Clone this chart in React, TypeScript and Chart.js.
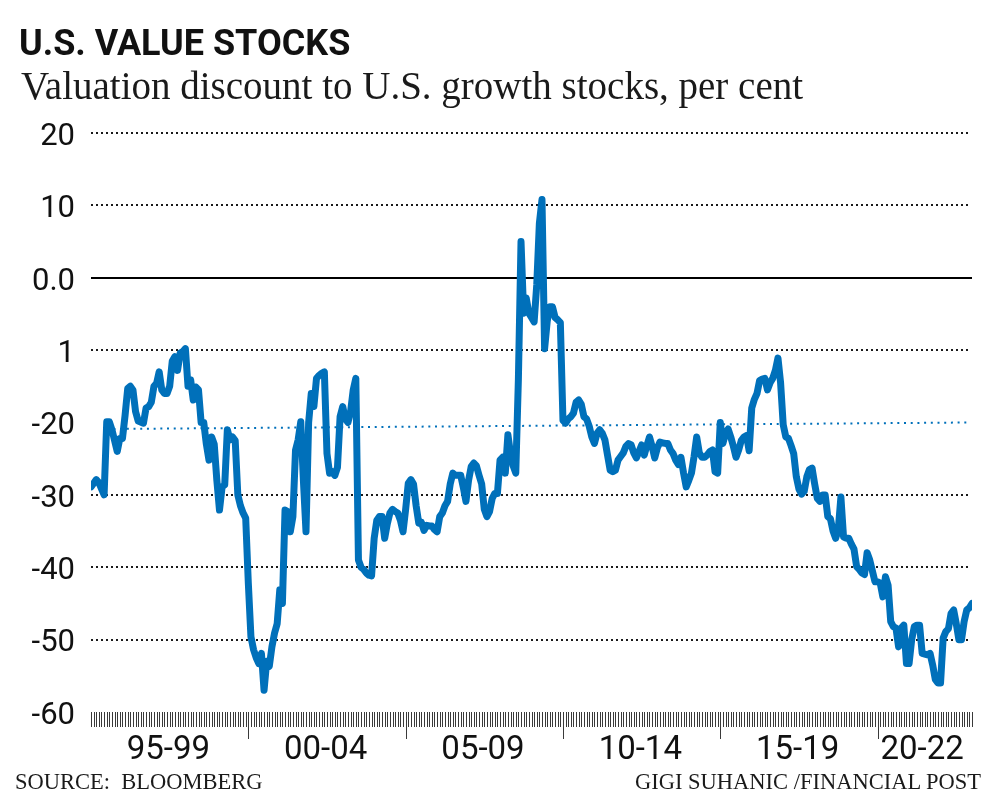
import React, { useEffect, useRef } from "react";
import { Chart, registerables } from "chart.js";

Chart.register(...registerables);

// Month index (0 = Jan 1995) and valuation discount (%)
const months: number[] = [
  0, 2, 3, 5, 6, 7, 8, 10, 11, 12, 13, 14, 15, 16, 17, 18, 20, 21, 22, 23, 24, 25, 26, 27, 28, 29,
  30, 31, 32, 33, 34, 35, 36, 37, 38, 39, 40, 41, 42, 43, 44, 45, 46, 47, 48, 49, 50, 51, 52, 53, 54,
  55, 56, 57, 58, 59, 60, 61, 62, 63, 64, 65, 66, 67, 68, 69, 70, 71, 72, 73, 74, 75, 76, 77, 78, 79,
  80, 81, 82, 83, 84, 85, 86, 87, 88, 89, 90, 91, 92, 93, 94, 95, 96, 97, 98, 99, 100, 101, 102, 103,
  104, 105, 106, 107, 108, 109, 110, 111, 112, 113, 114, 115, 116, 117, 118, 119, 120, 121, 122, 123,
  124, 125, 126, 127, 128, 129, 130, 131, 132, 133, 134, 135, 136, 137, 138, 139, 140, 141, 142, 143,
  144, 145, 146, 147, 148, 149, 150, 151, 152, 153, 154, 155, 156, 157, 158, 159, 160, 161, 162, 163,
  164, 165, 166, 167, 168, 169, 170, 171, 172, 173, 174, 175, 176, 177, 178, 179, 180, 181, 182, 183,
  184, 185, 186, 187, 188, 189, 190, 191, 192, 193, 194, 195, 196, 197, 198, 199, 200, 201, 202, 203,
  204, 205, 206, 207, 208, 209, 210, 211, 212, 213, 214, 215, 216, 217, 218, 219, 220, 221, 222, 223,
  224, 225, 226, 227, 228, 229, 230, 231, 232, 233, 234, 235, 236, 237, 238, 239, 240, 241, 242, 243,
  244, 245, 246, 247, 248, 249, 250, 251, 252, 253, 254, 255, 256, 257, 258, 259, 260, 261, 262, 263,
  264, 265, 266, 267, 268, 269, 270, 271, 272, 273, 274, 275, 276, 277, 278, 279, 280, 281, 282, 283,
  284, 285, 286, 287, 288, 289, 290, 291, 292, 293, 294, 295, 296, 297, 298, 299, 300, 301, 302, 303,
  304, 305, 306, 307, 308, 309, 310, 311, 312, 313, 314, 315, 316, 317, 318, 319, 320, 321, 322, 323,
  324, 325, 326, 327, 328, 329, 330, 331, 332, 333, 334, 335, 336,
];

const discount: number[] = [
  -28.9, -27.9, -28.3, -30.0, -19.9, -19.9, -21.0, -24.0, -22.2, -22.2, -19.0, -15.3, -15.0, -15.5, -18.5, -19.8, -20.1, -18.0, -17.8, -17.2, -15.0, -14.6, -13.0, -15.5, -16.0, -16.0,
  -15.0, -11.5, -10.9, -12.8, -10.4, -10.2, -9.8, -15.0, -14.1, -16.9, -15.1, -15.5, -20.0, -20.0, -23.0, -25.2, -22.0, -23.0, -28.0, -32.1, -28.9, -28.6, -21.0, -22.4, -22.0,
  -22.5, -30.0, -31.5, -32.5, -33.2, -42.2, -49.6, -51.4, -52.5, -53.3, -51.9, -57.0, -53.0, -53.7, -51.0, -49.1, -47.8, -43.1, -45.0, -32.1, -32.3, -35.1, -33.0, -23.8, -22.4,
  -19.9, -28.0, -35.1, -20.0, -16.0, -17.8, -13.9, -13.5, -13.2, -13.0, -24.3, -27.0, -26.8, -27.3, -26.2, -19.2, -17.8, -19.5, -20.0, -18.5, -15.5, -13.9, -39.0, -40.0,
  -40.3, -40.8, -41.1, -41.2, -36.0, -33.5, -33.0, -33.0, -36.0, -34.0, -32.5, -32.0, -32.3, -32.5, -33.5, -35.1, -32.0, -28.4, -27.9, -28.5,
  -31.5, -33.9, -33.8, -34.9, -34.2, -34.3, -34.3, -34.8, -35.1, -33.0, -32.5, -31.5, -30.9, -28.5, -27.0, -27.3, -27.3, -27.3, -29.0, -30.9,
  -28.0, -26.1, -25.6, -26.0, -27.3, -28.5, -32.0, -33.0, -32.3, -30.5, -29.8, -29.8, -25.2, -24.8, -27.0, -21.7, -24.3, -26.0, -27.0, -14.0,
  5.0, -4.9, -2.8, -4.9, -5.5, -6.1, -1.0, 7.5, 10.8, -9.8, -6.0, -4.0, -4.0, -5.5, -5.8, -6.2, -19.7, -20.1, -19.5, -19.2,
  -18.7, -17.2, -16.9, -17.5, -19.2, -19.5, -20.5, -22.0, -22.9, -21.5, -21.0, -21.5, -22.4, -24.5, -26.6, -26.8, -26.6, -25.2, -24.7, -24.2,
  -23.3, -22.9, -23.1, -24.2, -24.9, -24.0, -23.1, -24.5, -23.2, -22.0, -23.3, -24.9, -23.5, -22.7, -22.8, -22.9, -22.9, -23.8, -24.3, -25.2,
  -25.8, -24.8, -27.0, -28.9, -28.0, -27.0, -24.7, -22.0, -24.2, -24.8, -24.8, -24.5, -24.0, -23.8, -26.8, -27.0, -20.0, -22.9, -21.5, -20.9,
  -22.0, -23.3, -24.8, -23.8, -22.5, -22.0, -21.8, -23.9, -18.0, -16.8, -16.0, -14.2, -14.0, -13.9, -15.5, -14.5, -13.9, -12.8, -11.1, -14.5,
  -20.3, -22.0, -22.2, -23.2, -24.3, -27.5, -29.2, -29.9, -29.5, -27.5, -26.5, -26.3, -28.5, -30.5, -30.9, -30.0, -30.0, -33.0, -33.3, -35.0,
  -36.0, -34.8, -30.3, -35.8, -36.0, -36.0, -36.8, -37.5, -39.9, -40.3, -40.8, -41.0, -38.0, -39.0, -40.5, -42.0, -42.0, -42.2, -44.1, -41.3,
  -42.5, -47.5, -48.2, -48.4, -51.0, -48.4, -48.0, -53.3, -53.3, -50.0, -48.2, -48.0, -48.0, -51.9, -52.0, -52.1, -51.9, -53.5, -55.5, -56.0,
  -56.0, -49.8, -48.9, -48.5, -46.4, -45.9, -47.8, -50.0, -50.0, -47.5, -45.9, -45.6, -45.0,
];

// Faint blue reference line near -20
const refMonths: number[] = [6, 335];
const refValues: number[] = [-20.9, -20.0];

const yTickValues: number[] = [20, 10, 0, -10, -20, -30, -40, -50, -60];
const yTickLabels: string[] = ["20", "10", "0.0", "1", "-20", "-30", "-40", "-50", "-60"];
const dottedGridValues: number[] = [20, 10, -10, -30, -40, -50];

const xLabelPositions: number[] = [29.5, 89.5, 149.5, 209.5, 269.5, 317];
const xLabels: string[] = ["95-99", "00-04", "05-09", "10-14", "15-19", "20-22"];
const majorTickMonths: number[] = [60, 120, 180, 240, 300];
const firstMonth = 0;
const lastMonth = 336;

const BLUE = "#0070ba";
const SANS = "Roboto, 'Noto Sans', sans-serif";
const SERIF = "'Liberation Serif', 'Times New Roman', serif";

const gridPlugin = {
  id: "ftGrid",
  beforeDatasetsDraw(chart: any) {
    const { ctx, chartArea, scales } = chart;
    const x = scales.x;
    const y = scales.y;
    ctx.save();
    ctx.strokeStyle = "#1a1a1a";
    ctx.lineWidth = 2;
    ctx.setLineDash([2, 3]);
    for (const v of dottedGridValues) {
      const py = Math.round(y.getPixelForValue(v));
      ctx.beginPath();
      ctx.moveTo(chartArea.left, py);
      ctx.lineTo(chartArea.right - 2, py);
      ctx.stroke();
    }
    ctx.setLineDash([]);
    ctx.strokeStyle = "#000";
    ctx.lineWidth = 2;
    const p0 = Math.round(y.getPixelForValue(0));
    ctx.beginPath();
    ctx.moveTo(chartArea.left, p0);
    ctx.lineTo(chartArea.right, p0);
    ctx.stroke();
    ctx.strokeStyle = "#3a3a3a";
    ctx.lineWidth = 1;
    const top = chartArea.bottom;
    for (let m = firstMonth; m <= lastMonth; m++) {
      const px = Math.round(x.getPixelForValue(m)) + 0.5;
      const len = majorTickMonths.includes(m) ? 27 : 15;
      ctx.beginPath();
      ctx.moveTo(px, top);
      ctx.lineTo(px, top + len);
      ctx.stroke();
    }
    ctx.restore();
  },
};

export default function App() {
  const canvasRef = useRef<HTMLCanvasElement | null>(null);

  useEffect(() => {
    if (!canvasRef.current) return;
    const chart = new Chart(canvasRef.current, {
      type: "line",
      data: {
        datasets: [
          {
            data: months.map((m, i) => ({ x: m, y: discount[i] })),
            borderColor: BLUE,
            borderWidth: 7,
            borderJoinStyle: "round",
            borderCapStyle: "round",
            pointRadius: 0,
            tension: 0,
            fill: false,
          },
          {
            data: refMonths.map((m, i) => ({ x: m, y: refValues[i] })),
            borderColor: BLUE,
            borderWidth: 2,
            borderDash: [2, 4.7],
            pointRadius: 0,
            tension: 0,
            fill: false,
          },
        ],
      },
      options: {
        responsive: false,
        animation: false,
        events: [],
        layout: { padding: { top: 133, right: 28, bottom: 0, left: 0 } },
        plugins: { legend: { display: false }, tooltip: { enabled: false }, title: { display: false } },
        scales: {
          x: {
            type: "linear",
            min: firstMonth,
            max: lastMonth,
            grid: { display: false, drawTicks: false },
            border: { display: false },
            afterBuildTicks: (scale: any) => {
              scale.ticks = xLabelPositions.map((v) => ({ value: v }));
            },
            afterFit: (scale: any) => {
              scale.height = 90;
            },
            ticks: {
              autoSkip: false,
              maxRotation: 0,
              padding: 19,
              color: "#111",
              font: { family: SANS, size: 33 },
              callback: (_v: any, i: number) => xLabels[i],
            },
          },
          y: {
            type: "linear",
            min: -60,
            max: 20,
            grid: { display: false, drawTicks: false },
            border: { display: false },
            afterBuildTicks: (scale: any) => {
              scale.ticks = yTickValues.map((v) => ({ value: v }));
            },
            afterFit: (scale: any) => {
              scale.width = 91;
            },
            ticks: {
              padding: 16,
              labelOffset: 4,
              color: "#111",
              font: { family: SANS, size: 31 },
              callback: (_v: any, i: number) => yTickLabels[i],
            },
          },
        },
      },
      plugins: [gridPlugin],
    });
    return () => chart.destroy();
  }, []);

  return (
    <div style={{ position: "absolute", left: 0, top: 0, width: 1000, height: 802, background: "#fff", overflow: "hidden" }}>
      <canvas ref={canvasRef} width={1000} height={802} style={{ position: "absolute", left: 0, top: 0, width: 1000, height: 802 }} />
      <div
        style={{
          position: "absolute",
          left: 19,
          top: 24.5,
          fontFamily: SANS,
          fontWeight: 700,
          fontSize: 36,
          lineHeight: "36px",
          letterSpacing: 0,
          color: "#111",
          whiteSpace: "pre",
        }}
      >
        U.S. VALUE STOCKS
      </div>
      <div
        style={{
          position: "absolute",
          left: 21,
          top: 65.5,
          fontFamily: SERIF,
          fontSize: 39,
          lineHeight: "39px",
          color: "#1a1a1a",
          whiteSpace: "pre",
        }}
      >
        Valuation discount to U.S. growth stocks, per cent
      </div>
      <div
        style={{
          position: "absolute",
          left: 15,
          top: 771,
          fontFamily: SERIF,
          fontSize: 22.5,
          lineHeight: "22.5px",
          color: "#1a1a1a",
          whiteSpace: "pre",
        }}
      >
        {"SOURCE:  BLOOMBERG"}
      </div>
      <div
        style={{
          position: "absolute",
          right: 19,
          top: 771,
          fontFamily: SERIF,
          fontSize: 22.5,
          lineHeight: "22.5px",
          color: "#1a1a1a",
          whiteSpace: "pre",
        }}
      >
        GIGI SUHANIC /FINANCIAL POST
      </div>
    </div>
  );
}
